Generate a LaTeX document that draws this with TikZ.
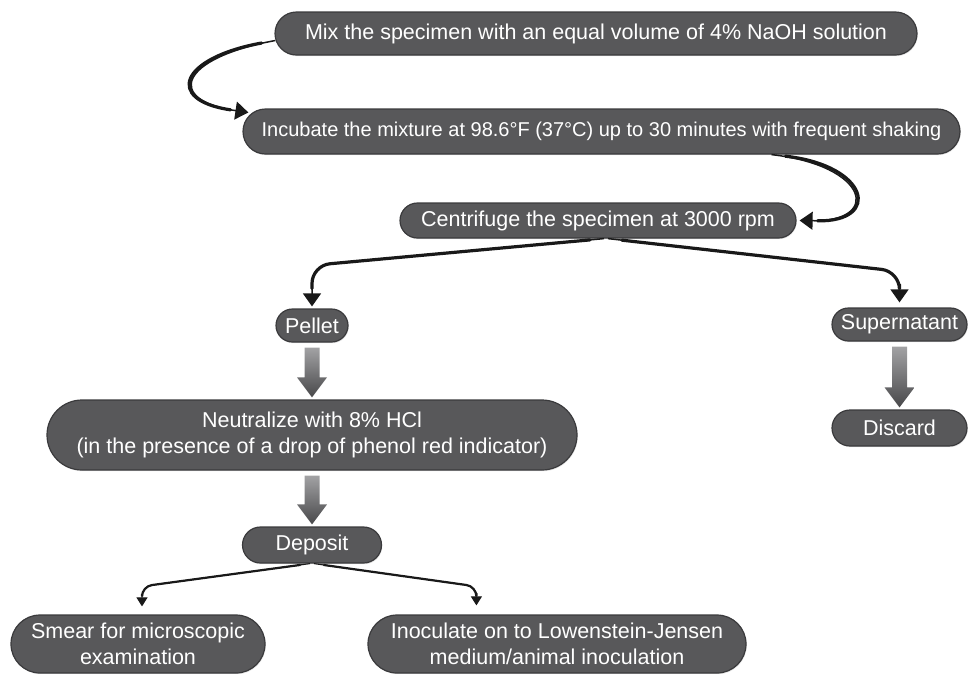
\documentclass[tikz,border=0pt]{standalone}
\usepackage{fontspec}
\setmainfont{Liberation Sans}
\usetikzlibrary{arrows.meta,calc,shadows}

\definecolor{boxfill}{HTML}{58585A}
\definecolor{boxline}{HTML}{3A3A3C}
\definecolor{arrowlight}{HTML}{A2A2A4}
\definecolor{arrowdark}{HTML}{48484A}

\tikzset{
  stepbox/.style={draw=boxline, line width=1.2pt, fill=boxfill, text=white,
    inner sep=0pt, align=center, font=\fontsize{21.5}{26}\selectfont,
    drop shadow={opacity=0.2, shadow xshift=0.8pt, shadow yshift=-1.2pt}},
  % connector that is thin at its ends and thicker along the middle
  flow/.style={draw=black!90, line width=1.5pt,
    -{Triangle[length=13pt,width=18pt]},
    postaction={draw=black!90, -, line width=3.2pt, line cap=round,
      shorten <=14pt, shorten >=18pt}},
  thinflow/.style={draw=black!90, line width=1.1pt, rounded corners=10pt,
    -{Triangle[length=9pt,width=11pt]},
    postaction={draw=black!90, -, line width=2.2pt, line cap=round,
      shorten <=10pt, shorten >=12pt}}
}

% wide grey arrow pointing down from one box to the next
\newcommand\grayarrow[2]{%
  \shade[top color=arrowlight, bottom color=arrowdark]
    let \p1=($(#1.south)+(0,5)$), \p2=($(#2.north)+(0,-2)$) in
    (\x1-7.5pt,\y1) -- (\x1+7.5pt,\y1) -- (\x1+7.5pt,\y2+20pt)
    -- (\x1+15pt,\y2+20pt) -- (\x1,\y2) -- (\x1-15pt,\y2+20pt)
    -- (\x1-7.5pt,\y2+20pt) -- cycle;}

\begin{document}
\begin{tikzpicture}[x=1pt,y=-1pt]
\useasboundingbox (0,0) rectangle (971,673);

% process steps
\node[stepbox, minimum width=642pt, minimum height=43pt, rounded corners=21.5pt]
  (mix) at (596,33.5) {Mix the specimen with an equal volume of 4\% NaOH solution};
\node[stepbox, minimum width=717pt, minimum height=45pt, rounded corners=22.5pt,
  font=\fontsize{20}{24}\selectfont]
  (inc) at (601.5,131.5) {Incubate the mixture at 98.6°F (37°C) up to 30 minutes with frequent shaking};
\node[stepbox, minimum width=396pt, minimum height=35pt, rounded corners=17.5pt]
  (cen) at (598,220.5) {Centrifuge the specimen at 3000 rpm};
\node[stepbox, minimum width=72pt, minimum height=33pt, rounded corners=16.5pt]
  (pel) at (312,325.5) {Pellet};
\node[stepbox, minimum width=135pt, minimum height=33pt, rounded corners=16.5pt]
  (sup) at (899.5,324.5) {Supernatant};
\node[stepbox, minimum width=530pt, minimum height=70pt, rounded corners=35pt]
  (neu) at (312,435) {Neutralize with 8\% HCl\\(in the presence of a drop of phenol red indicator)};
\node[stepbox, minimum width=135pt, minimum height=36pt, rounded corners=18pt]
  (dis) at (899.5,428) {Discard};
\node[stepbox, minimum width=139pt, minimum height=36pt, rounded corners=18pt]
  (dep) at (312,545) {Deposit};
\node[stepbox, minimum width=254pt, minimum height=58pt, rounded corners=29pt]
  (sme) at (138,644) {Smear for microscopic\\examination};
\node[stepbox, minimum width=378pt, minimum height=58pt, rounded corners=29pt]
  (ino) at (557,644) {Inoculate on to Lowenstein-Jensen\\medium/animal inoculation};

% curved connectors
\draw[flow] ($(mix.west)+(1,7)$)
  .. controls ($(mix.west)+(-95,24.5)$) and ($(inc.west)+(-78,-31.5)$)
  .. ($(inc.west)+(6,-19)$);
\draw[flow] ($(inc.south)+(170,0)$)
  .. controls ($(inc.south)+(268,11)$) and ($(cen.east)+(85,1.5)$)
  .. ($(cen.east)+(3,0)$);

% split after centrifuging
\draw[flow, rounded corners=18pt] ($(cen.south)+(6,0)$)
  -- ($(pel.north)+(0,-43)$) -- ($(pel.north)+(0,-2)$);
\draw[flow, rounded corners=18pt] ($(cen.south)+(10,0)$)
  -- ($(sup.north)+(0,-36)$) -- ($(sup.north)+(0,-5)$);

% grey step arrows
\grayarrow{pel}{neu}
\grayarrow{neu}{dep}
\grayarrow{sup}{dis}

% split of the deposit
\draw[thinflow] ($(dep.south)+(-2,0)$)
  -- ($(sme.north)+(4,-28)$) -- ($(sme.north)+(4,-8)$);
\draw[thinflow] ($(dep.south)+(2,0)$)
  -- ($(ino.north west)+(109,-28)$) -- ($(ino.north west)+(109,-9)$);
\end{tikzpicture}
\end{document}
